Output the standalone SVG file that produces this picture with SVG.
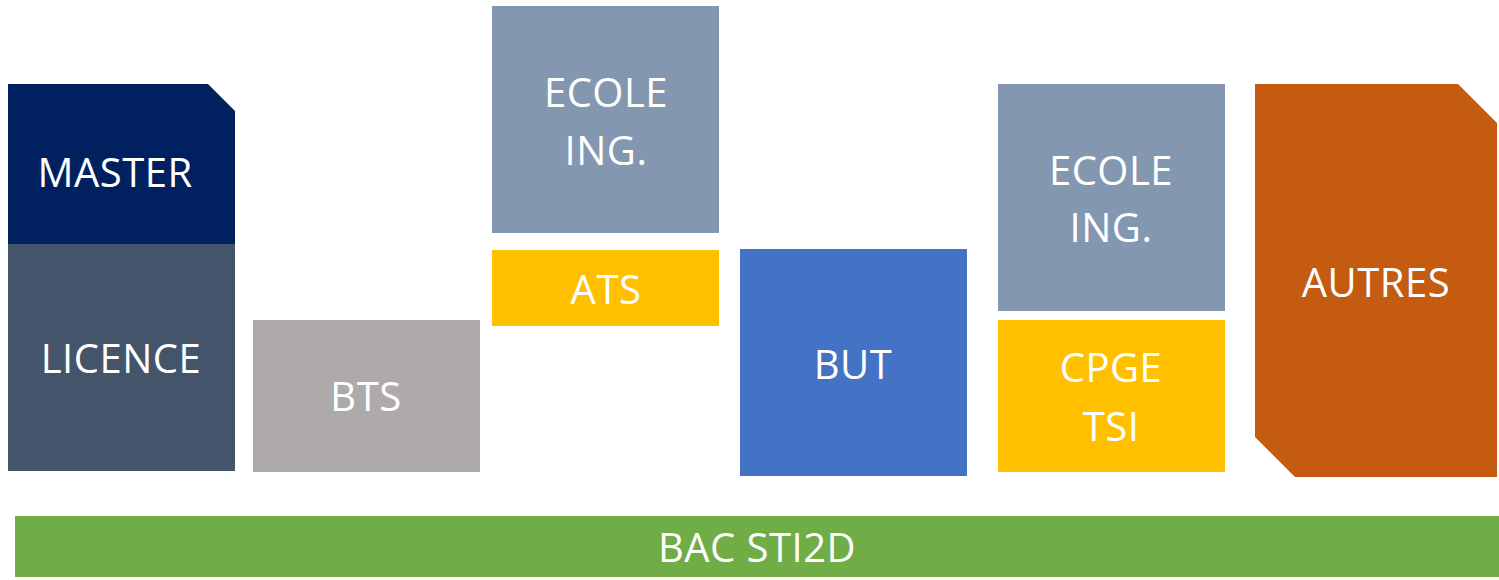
<svg xmlns="http://www.w3.org/2000/svg" width="1499" height="580" viewBox="0 0 1499 580">
  <style>
    text { font-family: "Open Sans", "Liberation Sans", sans-serif; font-size: 40px; fill: #ffffff; text-anchor: middle; letter-spacing: 0.5px; }
  </style>
  <rect width="1499" height="580" fill="#ffffff"/>

  <g id="master">
    <path d="M8 84 H208 L235 111 V244 H8 Z" fill="#002060"/>
    <text x="115" y="187">MASTER</text>
  </g>
  <g id="licence">
    <rect x="8" y="244" width="227" height="227" fill="#44546A"/>
    <text x="121" y="373">LICENCE</text>
  </g>
  <g id="bts">
    <rect x="253" y="320" width="227" height="152" fill="#AEAAAA"/>
    <text x="366" y="411">BTS</text>
  </g>
  <g id="ecole-ing-1">
    <rect x="492" y="6" width="227" height="227" fill="#8497B0"/>
    <text x="606" y="107">ECOLE</text>
    <text x="606" y="165">ING.</text>
  </g>
  <g id="ats">
    <rect x="492" y="250" width="227" height="76" fill="#FFC000"/>
    <text x="606" y="304">ATS</text>
  </g>
  <g id="but">
    <rect x="740" y="249" width="227" height="227" fill="#4472C4"/>
    <text x="853" y="379">BUT</text>
  </g>
  <g id="ecole-ing-2">
    <rect x="998" y="84" width="227" height="227" fill="#8497B0"/>
    <text x="1111" y="185">ECOLE</text>
    <text x="1111" y="242">ING.</text>
  </g>
  <g id="cpge-tsi">
    <rect x="998" y="320" width="227" height="152" fill="#FFC000"/>
    <text x="1111" y="382">CPGE</text>
    <text x="1111" y="441">TSI</text>
  </g>
  <g id="autres">
    <path d="M1255 84 H1458 L1497 123 V477 H1295 L1255 437 Z" fill="#C55A11"/>
    <text x="1376" y="297">AUTRES</text>
  </g>
  <g id="bac-sti2d">
    <rect x="15" y="516" width="1484" height="61" fill="#70AD47"/>
    <text x="757" y="562">BAC STI2D</text>
  </g>

  <g id="connectors"></g>
</svg>
